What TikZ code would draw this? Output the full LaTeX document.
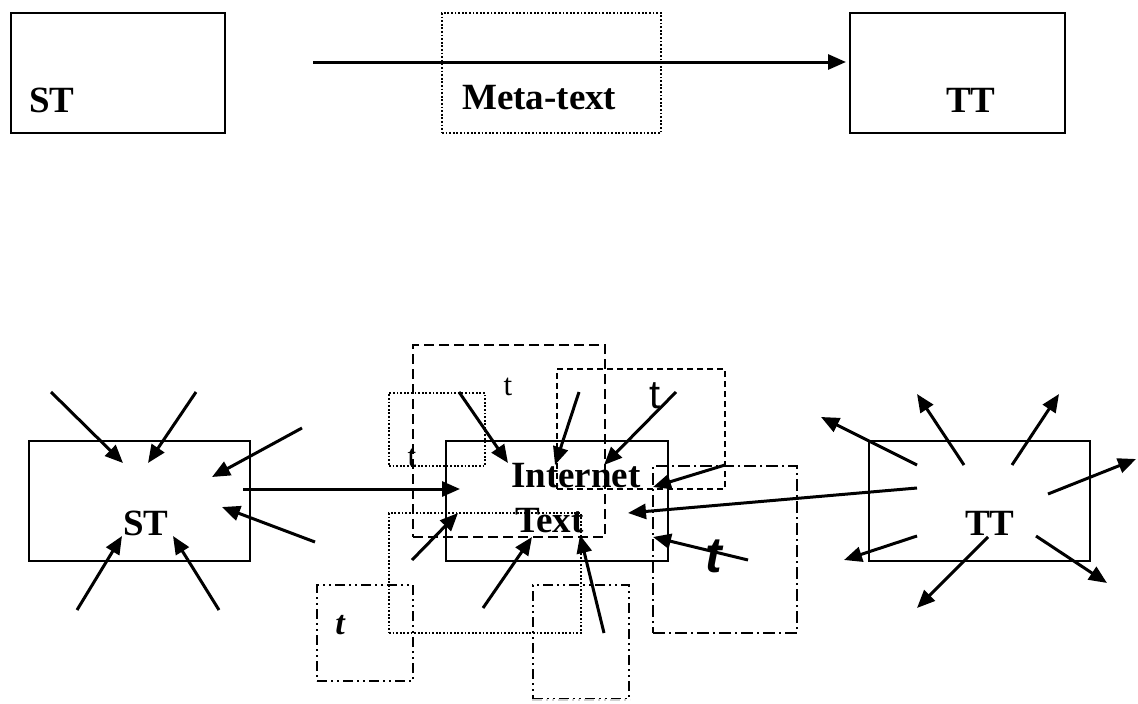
\documentclass[tikz,border=0pt]{standalone}
\usepackage{fontspec}
\setmainfont{Liberation Serif}
\newfontfamily\sansfont{Liberation Sans}
\usetikzlibrary{arrows.meta}

\tikzset{
  box/.style={draw, line width=2pt, anchor=north west, inner sep=0pt},
  dotbox/.style={box, line width=2pt, dash pattern=on 1.8pt off 1.8pt},
  longdash/.style={box, dash pattern=on 10pt off 5pt},
  shortdash/.style={box, dash pattern=on 6pt off 4pt},
  dashdot/.style={box, dash pattern=on 12pt off 4pt on 2pt off 4pt},
  dashdotdot/.style={box, dash pattern=on 10pt off 4pt on 2pt off 4pt on 2pt off 4pt},
  arr/.style={line width=3pt, -{Triangle[length=18pt,width=15pt]}},
  big/.style={font=\fontsize{37}{40}\selectfont\bfseries, inner sep=0pt},
  tlbl/.style={font=\fontsize{31}{34}\selectfont, inner sep=0pt}
}

\begin{document}
\begin{tikzpicture}[x=1pt,y=-1pt]
        \useasboundingbox (0,0) rectangle (1138,704);
        % top row
        \node[box, minimum width=214pt, minimum height=120pt] (stTop) at (10,12) {};
        \node[dotbox, minimum width=219pt, minimum height=120pt] (metaBox) at (441,12) {};
        \node[box, minimum width=215pt, minimum height=120pt] (ttTop) at (849,12) {};
        \node[big, anchor=base west] (stTopLbl) at (29,112) {ST};
        \node[big, anchor=base west] (metaLbl) at (462,109) {Meta-text};
        \node[big, anchor=base west] (ttTopLbl) at (946,112) {TT};
        \coordinate (metaStart) at (313,62);
        \coordinate (metaEnd) at (846,62);
        \draw[arr] (metaStart) -- (metaEnd);

        % bottom row: main boxes
        \node[box, minimum width=221pt, minimum height=120pt] (stBox) at (28,440) {};
        \node[box, minimum width=222pt, minimum height=120pt] (netBox) at (445,440) {};
        \node[box, minimum width=221pt, minimum height=120pt] (ttBox) at (868,440) {};
        \node[big, anchor=base west] (stLbl) at (123,535) {ST};
        \node[big, anchor=base west] (netLbl) at (511,487) {Internet};
        \node[big, anchor=base west] (textLbl) at (515,532) {Text};
        \node[big, anchor=base west] (ttLbl) at (965,535) {TT};

        % small t boxes round the Internet text
        \node[longdash, minimum width=192pt, minimum height=192pt] (tBoxA) at (412,344) {};
        \node[dotbox, minimum width=96pt, minimum height=73pt] (tBoxB) at (388,392) {};
        \node[shortdash, minimum width=168pt, minimum height=120pt] (tBoxC) at (556,368) {};
        \node[dashdot, minimum width=144pt, minimum height=167pt] (tBoxD) at (652,465) {};
        \node[dotbox, minimum width=192pt, minimum height=120pt] (tBoxE) at (388,512) {};
        \node[dashdotdot, minimum width=96pt, minimum height=96pt] (tBoxF) at (316,584) {};
        \node[dashdotdot, minimum width=96pt, minimum height=114pt] (tBoxG) at (532,584) {};
        \draw[white, line width=3pt] (tBoxG.south west) -- (tBoxG.south east);
        \draw[gray!35, line width=2pt, dash pattern=on 10pt off 4pt on 2pt off 4pt on 2pt off 4pt] (tBoxG.south west) -- (tBoxG.south east);

        \node[tlbl, anchor=base] (tA) at (508,395) {t};
        \node[tlbl, anchor=base] (tB) at (412,466) {t};
        \node[font=\sansfont\fontsize{40}{44}\selectfont, inner sep=0pt, anchor=base] (tC) at (655,408) {t};
        \node[font=\sansfont\fontsize{50}{54}\selectfont\bfseries\itshape, inner sep=0pt, anchor=base] (tD) at (714,572) {t};
        \node[font=\fontsize{34}{37}\selectfont\bfseries\itshape, inner sep=0pt, anchor=base] (tF) at (340,634) {t};

        % ST -> Internet, TT -> Internet
        \coordinate (stOut) at (243,489);
        \coordinate (netIn) at (460,489);
        \draw[arr] (stOut) -- (netIn);
        \coordinate (ttOut) at (917,488);
        \coordinate (netIn2) at (628,513);
        \draw[arr] (ttOut) -- (netIn2);

        % arrows into ST
        \foreach \xa/\ya/\xb/\yb [count=\i] in {51/392/123/463, 196/392/148/463, 302/428/212/477,
            315/542/222/507, 77/610/122/536, 219/610/173/536}{
          \coordinate (stA\i) at (\xa,\ya);
          \coordinate (stB\i) at (\xb,\yb);
          \draw[arr] (stA\i) -- (stB\i);
        }
        % arrows into the Internet text
        \foreach \xa/\ya/\xb/\yb [count=\i] in {459/392/508/463, 579/392/555/465, 676/392/604/465,
            725/465/653/487, 748/560/653/537, 604/633/580/535, 483/608/532/537, 412/560/458/513}{
          \coordinate (netA\i) at (\xa,\ya);
          \coordinate (netB\i) at (\xb,\yb);
          \draw[arr] (netA\i) -- (netB\i);
        }
        % arrows out of TT
        \foreach \xa/\ya/\xb/\yb [count=\i] in {917/465/821/417, 964/465/917/394, 1012/465/1059/394,
            1048/494/1136/459, 917/536/844/560, 988/537/917/608, 1036/536/1107/583}{
          \coordinate (ttA\i) at (\xa,\ya);
          \coordinate (ttB\i) at (\xb,\yb);
          \draw[arr] (ttA\i) -- (ttB\i);
        }
      \end{tikzpicture}
\end{document}
